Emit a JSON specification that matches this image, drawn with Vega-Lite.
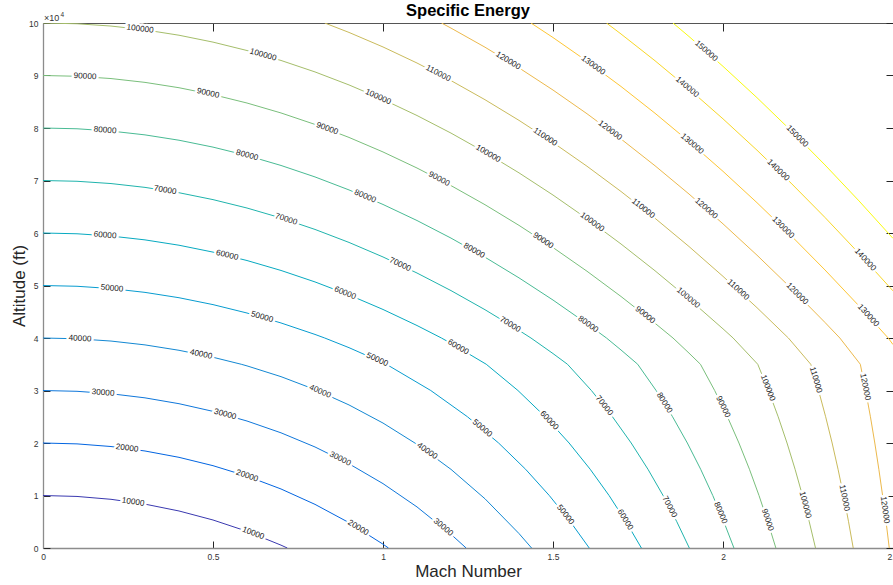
{
  "$schema": "https://vega.github.io/schema/vega-lite/v6.json",
  "width": 850,
  "height": 525,
  "padding": {"left": 43, "top": 23, "right": 0, "bottom": 37},
  "autosize": {"type": "none"},
  "background": "white",
  "title": {"text": "Specific Energy", "fontSize": 16.5, "fontWeight": "bold", "font": "Liberation Sans", "color": "#000000", "baseline": "alphabetic", "offset": -20.5, "anchor": "middle"},
  "config": {
    "view": {"stroke": null},
    "font": "Liberation Sans",
    "axis": {"grid": false, "labelFlush": false, "labelOverlap": false, "labelFont": "Liberation Sans", "labelFontSize": 8.5, "labelColor": "#333333", "tickColor": "#262626", "titleFont": "Liberation Sans", "titleFontSize": 17, "titleFontWeight": "normal", "titleColor": "#262626"}
  },
  "datasets": {
    "lines": [
      {"level":10000,"M":0,"h":10000},{"level":10000,"M":0.1,"h":9819},{"level":10000,"M":0.2,"h":9275},{"level":10000,"M":0.3,"h":8357},{"level":10000,"M":0.4,"h":7051},{"level":10000,"M":0.5,"h":5335},{"level":10000,"M":0.6,"h":3179},{"level":10000,"M":0.7,"h":544},{"level":10000,"M":0.7185,"h":0},
      {"level":20000,"M":0,"h":20000},{"level":20000,"M":0.1,"h":19833},{"level":20000,"M":0.2,"h":19328},{"level":20000,"M":0.3,"h":18478},{"level":20000,"M":0.4,"h":17269},{"level":20000,"M":0.5,"h":15679},{"level":20000,"M":0.6,"h":13683},{"level":20000,"M":0.7,"h":11242},{"level":20000,"M":0.8,"h":8311},{"level":20000,"M":0.9,"h":4831},{"level":20000,"M":1.0,"h":726},{"level":20000,"M":1.0161,"h":0},
      {"level":30000,"M":0,"h":30000},{"level":30000,"M":0.1,"h":29846},{"level":30000,"M":0.2,"h":29382},{"level":30000,"M":0.3,"h":28599},{"level":30000,"M":0.4,"h":27486},{"level":30000,"M":0.5,"h":26024},{"level":30000,"M":0.6,"h":24186},{"level":30000,"M":0.7,"h":21940},{"level":30000,"M":0.8,"h":19243},{"level":30000,"M":0.9,"h":16040},{"level":30000,"M":1.0,"h":12263},{"level":30000,"M":1.1,"h":7822},{"level":30000,"M":1.2,"h":2606},{"level":30000,"M":1.2445,"h":0},
      {"level":40000,"M":0,"h":40000},{"level":40000,"M":0.1,"h":39853},{"level":40000,"M":0.2,"h":39417},{"level":40000,"M":0.3,"h":38686},{"level":40000,"M":0.4,"h":37659},{"level":40000,"M":0.5,"h":36332},{"level":40000,"M":0.583,"h":35000},{"level":40000,"M":0.6,"h":34690},{"level":40000,"M":0.7,"h":32638},{"level":40000,"M":0.8,"h":30175},{"level":40000,"M":0.9,"h":27249},{"level":40000,"M":1.0,"h":23799},{"level":40000,"M":1.1,"h":19743},{"level":40000,"M":1.2,"h":14979},{"level":40000,"M":1.3,"h":9373},{"level":40000,"M":1.4,"h":2752},{"level":40000,"M":1.437,"h":0},
      {"level":50000,"M":0,"h":50000},{"level":50000,"M":0.1,"h":49854},{"level":50000,"M":0.2,"h":49417},{"level":50000,"M":0.3,"h":48689},{"level":50000,"M":0.4,"h":47670},{"level":50000,"M":0.5,"h":46359},{"level":50000,"M":0.6,"h":44757},{"level":50000,"M":0.7,"h":42864},{"level":50000,"M":0.8,"h":40679},{"level":50000,"M":0.8286,"h":40000},{"level":50000,"M":0.9,"h":38160},{"level":50000,"M":1.0,"h":35300},{"level":50000,"M":1.0098,"h":35000},{"level":50000,"M":1.1405,"h":30000},{"level":50000,"M":1.2484,"h":25000},{"level":50000,"M":1.34,"h":20000},{"level":50000,"M":1.4194,"h":15000},{"level":50000,"M":1.4891,"h":10000},{"level":50000,"M":1.5511,"h":5000},{"level":50000,"M":1.6066,"h":0},
      {"level":60000,"M":0,"h":60000},{"level":60000,"M":0.1,"h":59854},{"level":60000,"M":0.2,"h":59417},{"level":60000,"M":0.3,"h":58689},{"level":60000,"M":0.4,"h":57670},{"level":60000,"M":0.5,"h":56359},{"level":60000,"M":0.6,"h":54757},{"level":60000,"M":0.7,"h":52864},{"level":60000,"M":0.8,"h":50679},{"level":60000,"M":0.9,"h":48203},{"level":60000,"M":1.0,"h":45436},{"level":60000,"M":1.1,"h":42377},{"level":60000,"M":1.1719,"h":40000},{"level":60000,"M":1.2,"h":38985},{"level":60000,"M":1.3037,"h":35000},{"level":60000,"M":1.3969,"h":30000},{"level":60000,"M":1.4771,"h":25000},{"level":60000,"M":1.5473,"h":20000},{"level":60000,"M":1.6094,"h":15000},{"level":60000,"M":1.6649,"h":10000},{"level":60000,"M":1.7148,"h":5000},{"level":60000,"M":1.76,"h":0},
      {"level":70000,"M":0,"h":70000},{"level":70000,"M":0.1,"h":69854},{"level":70000,"M":0.2,"h":69417},{"level":70000,"M":0.3,"h":68689},{"level":70000,"M":0.4,"h":67670},{"level":70000,"M":0.5,"h":66359},{"level":70000,"M":0.6,"h":64757},{"level":70000,"M":0.7,"h":62864},{"level":70000,"M":0.8,"h":60679},{"level":70000,"M":0.9,"h":58203},{"level":70000,"M":1.0,"h":55436},{"level":70000,"M":1.1,"h":52377},{"level":70000,"M":1.2,"h":49028},{"level":70000,"M":1.3,"h":45387},{"level":70000,"M":1.4,"h":41454},{"level":70000,"M":1.4352,"h":40000},{"level":70000,"M":1.5,"h":37038},{"level":70000,"M":1.5426,"h":35000},{"level":70000,"M":1.613,"h":30000},{"level":70000,"M":1.6749,"h":25000},{"level":70000,"M":1.73,"h":20000},{"level":70000,"M":1.7793,"h":15000},{"level":70000,"M":1.8238,"h":10000},{"level":70000,"M":1.8642,"h":5000},{"level":70000,"M":1.901,"h":0},
      {"level":80000,"M":0,"h":80000},{"level":80000,"M":0.1,"h":79854},{"level":80000,"M":0.2,"h":79417},{"level":80000,"M":0.3,"h":78689},{"level":80000,"M":0.4,"h":77670},{"level":80000,"M":0.5,"h":76359},{"level":80000,"M":0.6,"h":74757},{"level":80000,"M":0.7,"h":72864},{"level":80000,"M":0.8,"h":70679},{"level":80000,"M":0.9,"h":68203},{"level":80000,"M":1.0,"h":65436},{"level":80000,"M":1.1,"h":62377},{"level":80000,"M":1.2,"h":59028},{"level":80000,"M":1.3,"h":55387},{"level":80000,"M":1.4,"h":51454},{"level":80000,"M":1.5,"h":47231},{"level":80000,"M":1.6,"h":42716},{"level":80000,"M":1.6573,"h":40000},{"level":80000,"M":1.7,"h":37719},{"level":80000,"M":1.7491,"h":35000},{"level":80000,"M":1.8033,"h":30000},{"level":80000,"M":1.8517,"h":25000},{"level":80000,"M":1.8951,"h":20000},{"level":80000,"M":1.9343,"h":15000},{"level":80000,"M":1.9699,"h":10000},{"level":80000,"M":2.0024,"h":5000},{"level":80000,"M":2.0322,"h":0},
      {"level":90000,"M":0,"h":90000},{"level":90000,"M":0.1,"h":89854},{"level":90000,"M":0.2,"h":89417},{"level":90000,"M":0.3,"h":88689},{"level":90000,"M":0.4,"h":87670},{"level":90000,"M":0.5,"h":86359},{"level":90000,"M":0.6,"h":84757},{"level":90000,"M":0.7,"h":82864},{"level":90000,"M":0.8,"h":80679},{"level":90000,"M":0.9,"h":78203},{"level":90000,"M":1.0,"h":75436},{"level":90000,"M":1.1,"h":72377},{"level":90000,"M":1.2,"h":69028},{"level":90000,"M":1.3,"h":65387},{"level":90000,"M":1.4,"h":61454},{"level":90000,"M":1.5,"h":57231},{"level":90000,"M":1.6,"h":52716},{"level":90000,"M":1.7,"h":47910},{"level":90000,"M":1.8,"h":42812},{"level":90000,"M":1.8529,"h":40000},{"level":90000,"M":1.9,"h":37122},{"level":90000,"M":1.9337,"h":35000},{"level":90000,"M":1.9755,"h":30000},{"level":90000,"M":2.013,"h":25000},{"level":90000,"M":2.0469,"h":20000},{"level":90000,"M":2.0778,"h":15000},{"level":90000,"M":2.1059,"h":10000},{"level":90000,"M":2.1317,"h":5000},{"level":90000,"M":2.1555,"h":0},
      {"level":100000,"M":0,"h":100000},{"level":100000,"M":0.1,"h":99854},{"level":100000,"M":0.2,"h":99417},{"level":100000,"M":0.3,"h":98689},{"level":100000,"M":0.4,"h":97670},{"level":100000,"M":0.5,"h":96359},{"level":100000,"M":0.6,"h":94757},{"level":100000,"M":0.7,"h":92864},{"level":100000,"M":0.8,"h":90679},{"level":100000,"M":0.9,"h":88203},{"level":100000,"M":1.0,"h":85436},{"level":100000,"M":1.1,"h":82377},{"level":100000,"M":1.2,"h":79028},{"level":100000,"M":1.3,"h":75387},{"level":100000,"M":1.4,"h":71454},{"level":100000,"M":1.5,"h":67231},{"level":100000,"M":1.6,"h":62716},{"level":100000,"M":1.7,"h":57910},{"level":100000,"M":1.8,"h":52812},{"level":100000,"M":1.9,"h":47424},{"level":100000,"M":2.0,"h":41744},{"level":100000,"M":2.0297,"h":40000},{"level":100000,"M":2.1022,"h":35000},{"level":100000,"M":2.1337,"h":30000},{"level":100000,"M":2.1623,"h":25000},{"level":100000,"M":2.1883,"h":20000},{"level":100000,"M":2.212,"h":15000},{"level":100000,"M":2.2337,"h":10000},{"level":100000,"M":2.2537,"h":5000},{"level":100000,"M":2.2721,"h":0},
      {"level":110000,"M":0.8286,"h":100000},{"level":110000,"M":0.9,"h":98203},{"level":110000,"M":1.0,"h":95436},{"level":110000,"M":1.1,"h":92377},{"level":110000,"M":1.2,"h":89028},{"level":110000,"M":1.3,"h":85387},{"level":110000,"M":1.4,"h":81454},{"level":110000,"M":1.5,"h":77231},{"level":110000,"M":1.6,"h":72716},{"level":110000,"M":1.7,"h":67910},{"level":110000,"M":1.8,"h":62812},{"level":110000,"M":1.9,"h":57424},{"level":110000,"M":2.0,"h":51744},{"level":110000,"M":2.1,"h":45772},{"level":110000,"M":2.1923,"h":40000},{"level":110000,"M":2.2581,"h":35000},{"level":110000,"M":2.2811,"h":30000},{"level":110000,"M":2.3019,"h":25000},{"level":110000,"M":2.321,"h":20000},{"level":110000,"M":2.3384,"h":15000},{"level":110000,"M":2.3545,"h":10000},{"level":110000,"M":2.3693,"h":5000},{"level":110000,"M":2.383,"h":0},
      {"level":120000,"M":1.1719,"h":100000},{"level":120000,"M":1.2,"h":99028},{"level":120000,"M":1.3,"h":95387},{"level":120000,"M":1.4,"h":91454},{"level":120000,"M":1.5,"h":87231},{"level":120000,"M":1.6,"h":82716},{"level":120000,"M":1.7,"h":77910},{"level":120000,"M":1.8,"h":72812},{"level":120000,"M":1.9,"h":67424},{"level":120000,"M":2.0,"h":61744},{"level":120000,"M":2.1,"h":55772},{"level":120000,"M":2.2,"h":49510},{"level":120000,"M":2.3,"h":42956},{"level":120000,"M":2.3437,"h":40000},{"level":120000,"M":2.4039,"h":35000},{"level":120000,"M":2.4194,"h":30000},{"level":120000,"M":2.4336,"h":25000},{"level":120000,"M":2.4465,"h":20000},{"level":120000,"M":2.4584,"h":15000},{"level":120000,"M":2.4694,"h":10000},{"level":120000,"M":2.4796,"h":5000},{"level":120000,"M":2.489,"h":0},
      {"level":130000,"M":1.4352,"h":100000},{"level":130000,"M":1.5,"h":97231},{"level":130000,"M":1.6,"h":92716},{"level":130000,"M":1.7,"h":87910},{"level":130000,"M":1.8,"h":82812},{"level":130000,"M":1.9,"h":77424},{"level":130000,"M":2.0,"h":71744},{"level":130000,"M":2.1,"h":65772},{"level":130000,"M":2.2,"h":59510},{"level":130000,"M":2.3,"h":52956},{"level":130000,"M":2.4,"h":46111},{"level":130000,"M":2.4859,"h":40000},{"level":130000,"M":2.5,"h":38747},
      {"level":140000,"M":1.6573,"h":100000},{"level":140000,"M":1.7,"h":97910},{"level":140000,"M":1.8,"h":92812},{"level":140000,"M":1.9,"h":87424},{"level":140000,"M":2.0,"h":81744},{"level":140000,"M":2.1,"h":75772},{"level":140000,"M":2.2,"h":69510},{"level":140000,"M":2.3,"h":62956},{"level":140000,"M":2.4,"h":56111},{"level":140000,"M":2.5,"h":48974},
      {"level":150000,"M":1.8529,"h":100000},{"level":150000,"M":1.9,"h":97424},{"level":150000,"M":2.0,"h":91744},{"level":150000,"M":2.1,"h":85772},{"level":150000,"M":2.2,"h":79510},{"level":150000,"M":2.3,"h":72956},{"level":150000,"M":2.4,"h":66111},{"level":150000,"M":2.5,"h":58974}
    ],
    "labels": [
      {"level":10000,"M":0.2647,"h":8724,"rot":8.5},{"level":10000,"M":0.6176,"h":2750,"rot":20.9},
      {"level":20000,"M":0.2471,"h":18972,"rot":7.4},{"level":20000,"M":0.6,"h":13683,"rot":18.9},{"level":20000,"M":0.9265,"h":3808,"rot":31.4},
      {"level":30000,"M":0.1765,"h":29519,"rot":4.8},{"level":30000,"M":0.5353,"h":25420,"rot":15.4},{"level":30000,"M":0.8735,"h":16942,"rot":27.2},{"level":30000,"M":1.1765,"h":3909,"rot":40.0},
      {"level":40000,"M":0.1088,"h":39828,"rot":2.8},{"level":40000,"M":0.4647,"h":36835,"rot":11.8},{"level":40000,"M":0.8147,"h":29775,"rot":23.0},{"level":40000,"M":1.1294,"h":18422,"rot":35.4},
      {"level":50000,"M":0.2029,"h":49400,"rot":5.2},{"level":50000,"M":0.6441,"h":43957,"rot":16.2},{"level":50000,"M":0.9824,"h":35829,"rot":24.6},{"level":50000,"M":1.2912,"h":22759,"rot":39.9},{"level":50000,"M":1.5358,"h":6286,"rot":52.0},
      {"level":60000,"M":0.1824,"h":59516,"rot":4.7},{"level":60000,"M":0.5412,"h":55734,"rot":13.7},{"level":60000,"M":0.8882,"h":48510,"rot":21.8},{"level":60000,"M":1.2206,"h":38225,"rot":29.9},{"level":60000,"M":1.4882,"h":24253,"rot":46.5},{"level":60000,"M":1.7116,"h":5333,"rot":58.3},
      {"level":70000,"M":0.3588,"h":68125,"rot":9.2},{"level":70000,"M":0.7147,"h":62561,"rot":17.8},{"level":70000,"M":1.05,"h":53943,"rot":25.3},{"level":70000,"M":1.3735,"h":42525,"rot":31.7},{"level":70000,"M":1.65,"h":27084,"rot":51.6},{"level":70000,"M":1.842,"h":7810,"rot":62.3},
      {"level":80000,"M":0.1824,"h":79516,"rot":4.7},{"level":80000,"M":0.6,"h":74757,"rot":15.1},{"level":80000,"M":0.9471,"h":66936,"rot":23.1},{"level":80000,"M":1.2676,"h":56598,"rot":29.7},{"level":80000,"M":1.6029,"h":42581,"rot":35.8},{"level":80000,"M":1.827,"h":27619,"rot":57.9},{"level":80000,"M":1.9919,"h":6667,"rot":67.5},
      {"level":90000,"M":0.1235,"h":89778,"rot":3.2},{"level":90000,"M":0.4853,"h":86570,"rot":12.3},{"level":90000,"M":0.8353,"h":79838,"rot":20.6},{"level":90000,"M":1.1647,"h":70243,"rot":27.6},{"level":90000,"M":1.4706,"h":58503,"rot":33.5},{"level":90000,"M":1.7706,"h":44341,"rot":38.5},{"level":90000,"M":1.9995,"h":26857,"rot":64.4},{"level":90000,"M":2.1301,"h":5333,"rot":72.1},
      {"level":100000,"M":0.2853,"h":98815,"rot":7.3},{"level":100000,"M":0.6471,"h":93901,"rot":16.2},{"level":100000,"M":0.9853,"h":85861,"rot":23.9},{"level":100000,"M":1.3088,"h":75052,"rot":30.5},{"level":100000,"M":1.6147,"h":62028,"rot":36.0},{"level":100000,"M":1.8971,"h":47584,"rot":40.5},{"level":100000,"M":2.1309,"h":30476,"rot":68.6},{"level":100000,"M":2.2411,"h":8190,"rot":75.3},
      {"level":110000,"M":1.1618,"h":90342,"rot":27.6},{"level":110000,"M":1.4765,"h":78249,"rot":33.6},{"level":110000,"M":1.7647,"h":64645,"rot":38.4},{"level":110000,"M":2.0441,"h":49146,"rot":42.6},{"level":110000,"M":2.2721,"h":32000,"rot":73.6},{"level":110000,"M":2.356,"h":9524,"rot":78.8},
      {"level":120000,"M":1.3676,"h":92760,"rot":31.6},{"level":120000,"M":1.6676,"h":79499,"rot":36.9},{"level":120000,"M":1.95,"h":64620,"rot":41.3},{"level":120000,"M":2.2176,"h":48378,"rot":44.9},{"level":120000,"M":2.4174,"h":30667,"rot":79.0},{"level":120000,"M":2.4751,"h":7238,"rot":82.5},
      {"level":130000,"M":1.6176,"h":91891,"rot":36.0},{"level":130000,"M":1.9088,"h":76935,"rot":40.6},{"level":130000,"M":2.1765,"h":61009,"rot":44.4},{"level":130000,"M":2.4265,"h":44249,"rot":47.5},
      {"level":140000,"M":1.8941,"h":87750,"rot":40.4},{"level":140000,"M":2.1618,"h":71937,"rot":44.2},{"level":140000,"M":2.4176,"h":54877,"rot":47.4},
      {"level":150000,"M":1.95,"h":94620,"rot":41.3},{"level":150000,"M":2.2176,"h":78378,"rot":44.9}
    ],
    "corner": [{"M":0,"h":100000,"t":"×10","e":"4"}]
  },
  "resolve": {"axis": {"x": "independent", "y": "independent"}},
  "layer": [
    {
      "data": {"name": "lines"},
      "mark": {"type": "line", "strokeWidth": 1, "clip": true},
      "encoding": {
        "x": {"field": "M", "type": "quantitative", "scale": {"domain": [0, 2.5], "nice": false, "zero": false},
              "axis": {"orient": "bottom", "title": "Mach Number", "values": [0, 0.5, 1, 1.5, 2, 2.5], "labelExpr": "'' + datum.value", "tickSize": -7, "labelPadding": 11, "domainColor": "#8c8c8c", "domainWidth": 1.3, "titleY": 28, "titleBaseline": "alphabetic"}},
        "y": {"field": "h", "type": "quantitative", "scale": {"domain": [0, 100000], "nice": false, "zero": false},
              "axis": {"orient": "left", "title": "Altitude (ft)", "values": [0,10000,20000,30000,40000,50000,60000,70000,80000,90000,100000], "labelExpr": "'' + datum.value / 10000", "tickSize": -7, "labelPadding": 12, "domainColor": "#8c8c8c", "domainWidth": 1.3, "titleX": -19, "titleBaseline": "alphabetic"}},
        "color": {"field": "level", "type": "ordinal", "legend": null,
                  "scale": {"domain": [10000,20000,30000,40000,50000,60000,70000,80000,90000,100000,110000,120000,130000,140000,150000],
                            "range": ["#3a39b0","#0265e1","#0f77db","#1388d3","#079cd0","#07aac1","#20b4ad","#49bb94","#7abf7c","#a5be6b","#cabb5c","#ecb94c","#fec634","#f8d726","#f9fb0e"]}},
        "detail": {"field": "level"}
      }
    },
    {
      "data": {"name": "labels"},
      "mark": {"type": "text", "font": "Liberation Sans", "fontSize": 8.2, "fill": "white", "stroke": "white", "strokeWidth": 5, "strokeJoin": "round", "align": "center", "baseline": "middle"},
      "encoding": {
        "x": {"field": "M", "type": "quantitative", "axis": null},
        "y": {"field": "h", "type": "quantitative", "axis": null},
        "text": {"field": "level", "type": "quantitative", "format": "d"},
        "angle": {"field": "rot", "type": "quantitative", "scale": null}
      }
    },
    {
      "data": {"name": "labels"},
      "mark": {"type": "text", "font": "Liberation Sans", "fontSize": 8.2, "fill": "#1a1a1a", "align": "center", "baseline": "middle"},
      "encoding": {
        "x": {"field": "M", "type": "quantitative", "axis": null},
        "y": {"field": "h", "type": "quantitative", "axis": null},
        "text": {"field": "level", "type": "quantitative", "format": "d"},
        "angle": {"field": "rot", "type": "quantitative", "scale": null}
      }
    },
    {
      "data": {"name": "corner"},
      "mark": {"type": "text", "font": "Liberation Sans", "fontSize": 9, "fill": "#333333", "align": "left", "baseline": "alphabetic", "dx": 1, "dy": -2.5},
      "encoding": {
        "x": {"field": "M", "type": "quantitative", "axis": {"orient": "top", "title": null, "labels": false, "values": [0, 0.5, 1, 1.5, 2, 2.5], "tickSize": -8, "domainColor": "#555555", "domainWidth": 1}},
        "y": {"field": "h", "type": "quantitative", "axis": {"orient": "right", "title": null, "labels": false, "values": [0,10000,20000,30000,40000,50000,60000,70000,80000,90000,100000], "tickSize": -7, "domainColor": "#555555", "domainWidth": 1}},
        "text": {"field": "t"}
      }
    },
    {
      "data": {"name": "corner"},
      "mark": {"type": "text", "font": "Liberation Sans", "fontSize": 6.5, "fill": "#333333", "align": "left", "baseline": "alphabetic", "dx": 17.5, "dy": -6.5},
      "encoding": {
        "x": {"field": "M", "type": "quantitative", "axis": null},
        "y": {"field": "h", "type": "quantitative", "axis": null},
        "text": {"field": "e"}
      }
    }
  ]
}
